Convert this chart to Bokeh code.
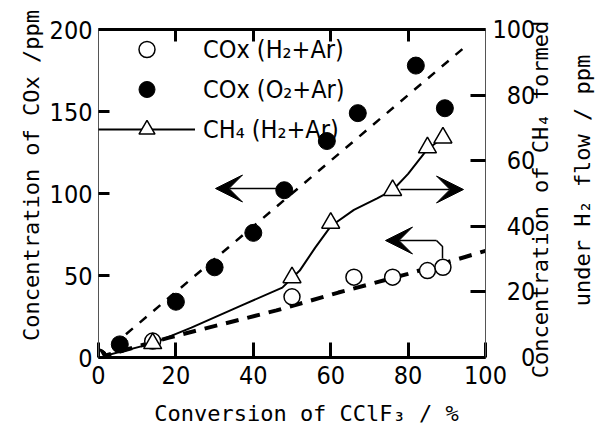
import math
from bokeh.plotting import figure
from bokeh.models import (Range1d, LinearAxis, Legend, LegendItem, Arrow, VeeHead,
                          FixedTicker, Label)
from bokeh.embed import file_html
from bokeh.resources import INLINE

# ---------------- data ----------------
conv_o2 = [0, 5.5, 20, 30, 40, 48, 59, 67, 82, 89.5]
cox_o2 = [0, 8, 34, 55, 76, 102, 132, 149, 178, 152]

conv_h2 = [0, 14, 50, 66, 76, 85, 89]
cox_h2 = [0, 10, 37, 49, 49, 53, 55]

conv_ch4 = [0, 14, 50, 60, 76, 85, 89]
ch4_h2 = [0, 4.3, 24.4, 41, 51, 64, 67]

# trend lines drawn in the figure
fit_o2_x = [0, 95]
fit_o2_y = [0, 190]
fit_h2_x = [0, 18, 46, 62, 80, 100]
fit_h2_y = [0, 12, 28.7, 39.6, 51, 65]
fit_ch4_x = [0, 14, 24, 37, 47.5, 52, 56, 60, 66, 72, 76, 80, 85, 89]
fit_ch4_y = [0, 4.3, 9.1, 15.9, 21.3, 26.5, 33.5, 40, 45, 48.5, 51, 56, 63.5, 67]

x_ticks = [0, 20, 40, 60, 80, 100]
top_ticks = [20, 40, 60, 80]
yl_ticks = [0, 50, 100, 150, 200]
yr_ticks = [0, 20, 40, 60, 80, 100]

# ---------------- layout ----------------
W, H = 607, 430
FL, FR, FT, FB = 98, 485, 29, 357   # frame edges in pixels

TICK_FONT = "'Liberation Sans Narrow', 'DejaVu Sans Condensed', 'Liberation Sans'"
TITLE_FONT = "'DejaVu Sans Mono'"
FS = "\u2007"   # figure space, to right-align right-hand tick labels


def X(px):
    return (px - FL) / (FR - FL) * 100.0


def YL(py):
    return (FB - py) / (FB - FT) * 200.0


p = figure(width=W, height=H, output_backend="svg", toolbar_location=None,
           x_range=Range1d(0, 100), y_range=Range1d(0, 200),
           min_border_left=FL, min_border_right=W - FR,
           min_border_top=FT, min_border_bottom=H - FB,
           background_fill_color="white", border_fill_color="white")
p.extra_y_ranges = {"r": Range1d(0, 100)}
p.outline_line_color = None
p.xgrid.visible = False
p.ygrid.visible = False


def style_axis(ax, tick_in, line_w, line_col="black"):
    ax.major_tick_in = tick_in
    ax.major_tick_out = 0
    ax.minor_tick_line_color = None
    ax.major_tick_line_width = 3
    ax.major_tick_line_color = "black"
    ax.axis_line_width = line_w
    ax.axis_line_color = line_col
    ax.major_label_text_font = TICK_FONT
    ax.major_label_text_font_size = "25px"
    ax.major_label_text_color = "black"


# bottom axis
xa = p.xaxis[0]
xa.ticker = FixedTicker(ticks=x_ticks)
style_axis(xa, 15, 3)
xa.major_label_standoff = 8

# left axis
ya = p.yaxis[0]
ya.ticker = FixedTicker(ticks=yl_ticks)
style_axis(ya, 11, 1, "#555555")
ya.major_label_standoff = 6

# right axis
ra = LinearAxis(y_range_name="r", ticker=FixedTicker(ticks=yr_ticks))
style_axis(ra, 15, 1, "#555555")
ra.major_label_standoff = 7
ra.major_label_overrides = {t: FS * (3 - len(str(t))) + str(t) for t in yr_ticks}
p.add_layout(ra, "right")

# top axis (ticks only, no labels)
ta = LinearAxis(ticker=FixedTicker(ticks=top_ticks))
style_axis(ta, 12, 3)
ta.major_label_overrides = {t: "" for t in top_ticks}
ta.major_label_standoff = 0
p.add_layout(ta, "above")

# ---------------- lines ----------------
p.line(fit_o2_x, fit_o2_y, line_color="black", line_width=2.5, line_dash="9 9")
p.line(fit_h2_x, fit_h2_y, line_color="black", line_width=4, line_dash="13 9")
r_ch4_line = p.line(fit_ch4_x, fit_ch4_y, y_range_name="r", line_color="black",
                    line_width=2)

# ---------------- markers ----------------
r_h2 = p.scatter(conv_h2, cox_h2, marker="circle", size=16, fill_color="white",
                 line_color="black", line_width=1.5)
r_o2 = p.scatter(conv_o2, cox_o2, marker="circle", size=17, fill_color="black",
                 line_color="black")
r_ch4 = p.scatter(conv_ch4, ch4_h2, y_range_name="r", marker="triangle", size=18,
                  fill_color="white", line_color="black", line_width=1.5)

# ---------------- arrows ----------------
head = dict(size=27, fill_color="black", line_color="black", line_width=1)
p.add_layout(Arrow(end=VeeHead(**head), x_start=X(282), y_start=YL(188),
                   x_end=X(215), y_end=YL(188), line_width=1.5))
p.add_layout(Arrow(end=VeeHead(**head), x_start=X(400), y_start=YL(189),
                   x_end=X(463), y_end=YL(189), line_width=1.5))
p.line([X(442), X(442), X(436)], [YL(258), YL(246), YL(240)], line_color="black",
       line_width=1.5)
p.add_layout(Arrow(end=VeeHead(**head), x_start=X(436), y_start=YL(240),
                   x_end=X(385), y_end=YL(240), line_width=1.5))

# ---------------- legend ----------------
legend = Legend(items=[
    LegendItem(label="COx (H\u2082+Ar)", renderers=[r_h2]),
    LegendItem(label="COx (O\u2082+Ar)", renderers=[r_o2]),
    LegendItem(label="CH\u2084 (H\u2082+Ar)", renderers=[r_ch4_line, r_ch4]),
], location="top_left")
legend.border_line_color = None
legend.background_fill_alpha = 0
legend.glyph_width = 97
legend.glyph_height = 40
legend.label_height = 20
legend.spacing = -8
legend.padding = 0
legend.margin = 0
legend.label_standoff = 8
legend.label_text_font = TICK_FONT
legend.label_text_font_size = "25px"
legend.label_text_color = "black"
p.add_layout(legend, "center")

# ---------------- axis titles (labels placed in the side panels) ----------------
tkw = dict(text_font=TITLE_FONT, text_font_size="22px", text_color="black",
           text_align="center", text_baseline="middle")
p.add_layout(Label(x=X(306), y=YL(413), text="Conversion of CClF\u2083 / %", **tkw),
             "below")
p.add_layout(Label(x=X(31), y=YL(175), angle=math.pi / 2,
                   text="Concentration of COx /ppm", **tkw), "left")
p.add_layout(Label(x=X(540), y=YL(199), angle=math.pi / 2,
                   text="Concentration of CH\u2084 formed", **tkw), "right")
p.add_layout(Label(x=X(582), y=YL(180), angle=math.pi / 2,
                   text="under H\u2082 flow / ppm", **tkw), "right")

open("out.html", "w").write(file_html(p, INLINE))
